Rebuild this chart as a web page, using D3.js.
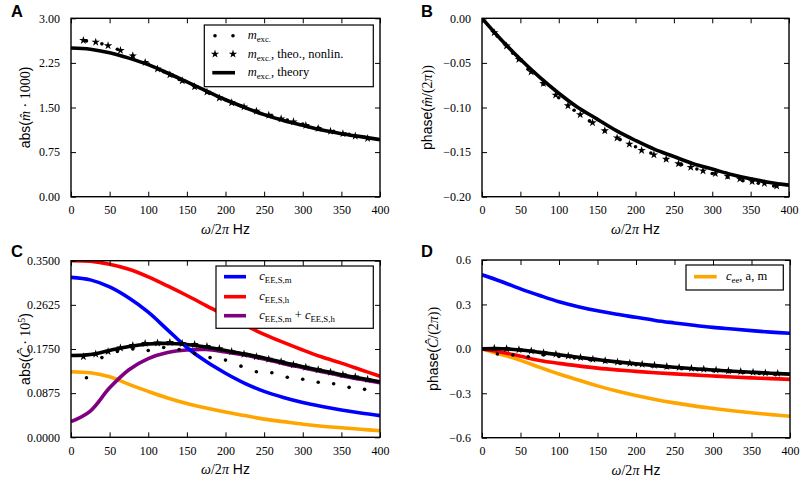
<!DOCTYPE html>
<html><head><meta charset="utf-8">
<script src="https://cdn.jsdelivr.net/npm/d3@7"></script>
<style>body{margin:0;background:#fff} svg{display:block}</style>
</head><body><svg id="chart" width="800" height="481"></svg>
<script>
// ---------- data ----------
const freqGrid  = [0,25,50,75,100,125,150,175,200,225,250,275,300,325,350,375,400];
const starFreqs = [16,32,48,64,80,96,112,128,144,160,176,192,208,224,240,256,272,288,304,320,336,352,368,384];
const dotFreqs  = [20,40,60,80,100,120,140,160,180,200,220,240,260,280,300,320,340,360,380];
const xTicks = [0,50,100,150,200,250,300,350,400];

// Panel A: abs(m * 1000)
const aTheory = [2.50,2.48,2.42,2.33,2.22,2.08,1.93,1.78,1.63,1.50,1.38,1.28,1.20,1.12,1.06,1.01,0.96];
const aStars  = [2.63,2.60,2.54,2.46,2.37,2.26,2.15,2.05,1.95,1.85,1.76,1.66,1.58,1.51,1.44,1.37,1.31,1.26,1.20,1.15,1.10,1.06,1.02,0.98];
const aDots   = [2.62,2.57,2.48,2.37,2.23,2.10,1.97,1.85,1.74,1.63,1.53,1.44,1.36,1.29,1.22,1.16,1.10,1.05,1.00];
const aTicks  = [0,0.75,1.5,2.25,3.0];

// Panel B: phase(m/(2pi))
const bTheory = [0,-0.024,-0.046,-0.066,-0.084,-0.100,-0.113,-0.126,-0.137,-0.147,-0.155,-0.163,-0.169,-0.175,-0.180,-0.184,-0.187];
const bStars  = [-0.016,-0.031,-0.046,-0.060,-0.073,-0.086,-0.098,-0.108,-0.117,-0.126,-0.134,-0.141,-0.148,-0.153,-0.158,-0.163,-0.167,-0.171,-0.174,-0.177,-0.180,-0.183,-0.185,-0.188];
const bDots   = [-0.020,-0.039,-0.057,-0.074,-0.089,-0.103,-0.115,-0.126,-0.136,-0.144,-0.151,-0.158,-0.164,-0.169,-0.174,-0.178,-0.182,-0.185,-0.188];
const bTicks  = [-0.2,-0.15,-0.1,-0.05,0];

// Panel C: abs(C * 10^5)
const cBlue   = [0.317,0.312,0.298,0.276,0.248,0.213,0.178,0.150,0.127,0.107,0.091,0.079,0.069,0.061,0.054,0.048,0.043];
const cRed    = [0.350,0.349,0.343,0.333,0.318,0.300,0.281,0.261,0.241,0.222,0.204,0.188,0.173,0.159,0.147,0.134,0.121];
const cPurple = [0.031,0.052,0.098,0.134,0.156,0.168,0.173,0.174,0.169,0.163,0.155,0.146,0.138,0.130,0.122,0.115,0.108];
const cOrange = [0.130,0.128,0.120,0.105,0.091,0.078,0.067,0.058,0.050,0.043,0.036,0.031,0.026,0.022,0.019,0.016,0.013];
const cBlack  = [0.162,0.164,0.172,0.180,0.185,0.186,0.184,0.179,0.172,0.165,0.157,0.148,0.140,0.132,0.124,0.117,0.110];
const cStars  = [0.160,0.165,0.170,0.177,0.182,0.186,0.187,0.188,0.186,0.184,0.180,0.176,0.170,0.165,0.160,0.155,0.150,0.144,0.139,0.134,0.129,0.124,0.120,0.115];
const cDots   = [0.118,0.158,0.170,0.175,0.172,0.178,0.174,0.166,0.158,0.153,0.141,0.130,0.128,0.119,0.115,0.109,0.106,0.099,0.095];
const cTicks  = [0,0.0875,0.175,0.2625,0.35];

// Panel D: phase(C/(2pi))
const dBlue   = [0.500,0.455,0.405,0.360,0.318,0.285,0.257,0.233,0.213,0.192,0.175,0.159,0.145,0.134,0.123,0.113,0.105];
const dRed    = [0,-0.022,-0.050,-0.078,-0.098,-0.115,-0.130,-0.142,-0.152,-0.161,-0.169,-0.176,-0.183,-0.190,-0.196,-0.201,-0.206];
const dOrange = [0,-0.038,-0.078,-0.125,-0.170,-0.210,-0.250,-0.285,-0.315,-0.342,-0.365,-0.385,-0.402,-0.418,-0.432,-0.444,-0.455];
const dBlack  = [0,0.001,-0.008,-0.024,-0.040,-0.057,-0.073,-0.088,-0.101,-0.113,-0.124,-0.134,-0.143,-0.151,-0.158,-0.165,-0.171];
const dStars  = [0.004,0.002,-0.005,-0.014,-0.026,-0.036,-0.048,-0.058,-0.070,-0.080,-0.089,-0.097,-0.104,-0.111,-0.119,-0.125,-0.131,-0.137,-0.143,-0.148,-0.153,-0.158,-0.162,-0.166];
const dDots   = [-0.035,-0.042,-0.053,-0.042,-0.052,-0.062,-0.074,-0.085,-0.097,-0.107,-0.116,-0.125,-0.133,-0.141,-0.148,-0.154,-0.160,-0.166,-0.171];
const dTicks  = [-0.6,-0.3,0,0.3,0.6];

// ---------- drawing ----------
const SERIF = "'Liberation Serif','DejaVu Serif',serif";
const SANS  = "'Liberation Sans',Arial,sans-serif";
const svg = d3.select('#chart');
const zip = (xs, ys) => xs.map((x,i)=>[x, ys[i]]);

function rich(sel, parts, size) {
  let pending = 0;
  parts.forEach(([t,k]) => {
    const ts = sel.append('tspan').text(t);
    ts.attr('font-family', k === 's' ? SANS : SERIF);
    if (k === 'i') ts.attr('font-style','italic');
    let dy = pending; pending = 0;
    if (k === 'sub') { ts.attr('font-size', size*0.7); dy += size*0.22; pending = -size*0.22; }
    if (k === 'sup') { ts.attr('font-size', size*0.7); dy += -size*0.38; pending = size*0.38; }
    if (dy !== 0) ts.attr('dy', dy);
  });
  return sel;
}

const STAR = d3.symbol().type(d3.symbolStar).size(22);
const LW = 3.6;

function panel(cfg) {
  const g = svg.append('g');
  const x = d3.scaleLinear().domain([0,400]).range([cfg.x0, cfg.x1]);
  const y = d3.scaleLinear().domain(cfg.yDomain).range([cfg.y1, cfg.y0]);
  const clipId = 'clip' + cfg.id;
  svg.append('clipPath').attr('id', clipId).append('rect')
    .attr('x', cfg.x0).attr('y', cfg.y0).attr('width', cfg.x1-cfg.x0).attr('height', cfg.y1-cfg.y0);
  const plot = g.append('g').attr('clip-path', `url(#${clipId})`);
  const line = d3.line().x(d=>x(d[0])).y(d=>y(d[1])).curve(d3.curveCatmullRom.alpha(0.5));
  cfg.lines.forEach(l => {
    plot.append('path').datum(zip(freqGrid, l.v)).attr('d', line)
      .attr('fill','none').attr('stroke', l.c).attr('stroke-width', LW)
      .attr('stroke-linejoin','round').attr('stroke-linecap','butt');
  });
  plot.selectAll('.st').data(zip(starFreqs, cfg.stars)).enter().append('path')
    .attr('d', STAR).attr('transform', d=>`translate(${x(d[0])},${y(d[1])})`).attr('fill','#000');
  plot.selectAll('.dt').data(zip(dotFreqs, cfg.dots)).enter().append('circle')
    .attr('cx', d=>x(d[0])).attr('cy', d=>y(d[1])).attr('r', 1.8).attr('fill','#000');

  const ax = (gen, tr) => {
    const a = g.append('g').attr('transform', tr).call(gen);
    a.select('.domain').remove();
    a.selectAll('line').attr('stroke','#000').attr('stroke-width',1);
    a.selectAll('text').attr('font-family', SERIF).attr('font-size', 12).attr('fill','#000');
    return a;
  };
  ax(d3.axisBottom(x).tickValues(xTicks).tickSizeInner(-5).tickSizeOuter(0).tickPadding(9).tickFormat(d3.format('d')), `translate(0,${cfg.y1})`);
  ax(d3.axisTop(x).tickValues(xTicks).tickSizeInner(-5).tickSizeOuter(0).tickFormat(''), `translate(0,${cfg.y0})`);
  ax(d3.axisLeft(y).tickValues(cfg.yTicks).tickSizeInner(-5).tickSizeOuter(0).tickPadding(11).tickFormat(d3.format(cfg.fmt)), `translate(${cfg.x0},0)`);
  ax(d3.axisRight(y).tickValues(cfg.yTicks).tickSizeInner(-5).tickSizeOuter(0).tickFormat(''), `translate(${cfg.x1},0)`);

  g.append('rect').attr('x', cfg.x0).attr('y', cfg.y0).attr('width', cfg.x1-cfg.x0).attr('height', cfg.y1-cfg.y0)
    .attr('fill','none').attr('stroke','#000').attr('stroke-width',1.4);

  rich(g.append('text').attr('x', (cfg.x0+cfg.x1)/2).attr('y', cfg.y1+37).attr('text-anchor','middle').attr('font-size',14),
    [['\u03c9','i'],['/2','r'],['\u03c0','i'],[' Hz','s']], 14);
  rich(g.append('text').attr('transform', `translate(${cfg.ylx},${(cfg.y0+cfg.y1)/2}) rotate(-90)`)
    .attr('text-anchor','middle').attr('dy','0.35em').attr('font-size',14), cfg.ylabel, 14);
  g.append('text').attr('x', cfg.lx).attr('y', cfg.ly).attr('font-family', SANS).attr('font-weight','bold')
    .attr('font-size',16.5).text(cfg.id);
  return {g, x, y};
}

panel({id:'A', x0:71, x1:380, y0:18.3, y1:196.7, yDomain:[0,3], yTicks:aTicks, fmt:'.2f',
  lines:[{v:aTheory, c:'#000'}], stars:aStars, dots:aDots, ylx:25, lx:11, ly:16.8,
  ylabel:[['abs(','s'],['m\u0302','i'],[' \u00b7 1000','r'],[')','s']]});
panel({id:'B', x0:482, x1:789, y0:18.3, y1:196.7, yDomain:[-0.2,0], yTicks:bTicks, fmt:'.2f',
  lines:[{v:bTheory, c:'#000'}], stars:bStars, dots:bDots, ylx:427, lx:421, ly:16.8,
  ylabel:[['phase(','s'],['m\u0302','i'],['/(2','r'],['\u03c0','i'],['))','r']]});
panel({id:'C', x0:71, x1:380, y0:260.7, y1:437.3, yDomain:[0,0.35], yTicks:cTicks, fmt:'.4f',
  lines:[{v:cOrange,c:'#ffa500'},{v:cPurple,c:'#800080'},{v:cRed,c:'#ff0000'},{v:cBlack,c:'#000'},{v:cBlue,c:'#0000ff'}],
  stars:cStars, dots:cDots, ylx:25, lx:11, ly:256.7,
  ylabel:[['abs(','s'],['\u0108','i'],[' \u00b7 10','r'],['5','sup'],[')','s']]});
panel({id:'D', x0:482, x1:790, y0:260, y1:437.7, yDomain:[-0.6,0.6], yTicks:dTicks, fmt:'.1f',
  lines:[{v:dBlue,c:'#0000ff'},{v:dOrange,c:'#ffa500'},{v:dRed,c:'#ff0000'},{v:dBlack,c:'#000'}],
  stars:dStars, dots:dDots, ylx:433, lx:421, ly:256.7,
  ylabel:[['phase(','s'],['\u0108','i'],['/(2','r'],['\u03c0','i'],['))','r']]});

// ---------- legends ----------
function legendBox(x0,y0,x1,y1){
  svg.append('rect').attr('x',x0).attr('y',y0).attr('width',x1-x0).attr('height',y1-y0)
    .attr('fill','#fff').attr('stroke','#000').attr('stroke-width',1.2);
}
const LFS = 12.5;
legendBox(204.3,25,373.3,86.7);
[215,233].forEach(px => {
  svg.append('circle').attr('cx',px).attr('cy',35.7).attr('r',1.8).attr('fill','#000');
  svg.append('path').attr('d', STAR).attr('transform',`translate(${px},54)`).attr('fill','#000');
});
svg.append('line').attr('x1',212.3).attr('x2',235).attr('y1',72.7).attr('y2',72.7).attr('stroke','#000').attr('stroke-width',LW);
const legA = [
  [['m','i'],['exc.','sub']],
  [['m','i'],['exc.','sub'],[', theo., nonlin.','r']],
  [['m','i'],['exc.','sub'],[', theory','r']]
];
[35.7,54,72.7].forEach((yy,i)=> rich(svg.append('text').attr('x',247.7).attr('y',yy).attr('dy','0.3em').attr('font-size',LFS), legA[i], LFS));

legendBox(216,266,373.3,328.3);
const legC = [
  {c:'#0000ff', t:[['c','i'],['EE,S,m','sub']]},
  {c:'#ff0000', t:[['c','i'],['EE,S,h','sub']]},
  {c:'#800080', t:[['c','i'],['EE,S,m','sub'],[' + ','r'],['c','i'],['EE,S,h','sub']]}
];
[276.7,296.7,315.7].forEach((yy,i)=>{
  svg.append('line').attr('x1',224).attr('x2',246).attr('y1',yy).attr('y2',yy).attr('stroke',legC[i].c).attr('stroke-width',LW);
  rich(svg.append('text').attr('x',259.3).attr('y',yy).attr('dy','0.3em').attr('font-size',LFS), legC[i].t, LFS);
});

legendBox(686,265,783.3,290);
svg.append('line').attr('x1',694).attr('x2',716.7).attr('y1',276.7).attr('y2',276.7).attr('stroke','#ffa500').attr('stroke-width',LW);
rich(svg.append('text').attr('x',726).attr('y',276.7).attr('dy','0.3em').attr('font-size',LFS),
  [['c','i'],['ee','sub'],[', a, m','r']], LFS);
</script>
</body></html>
